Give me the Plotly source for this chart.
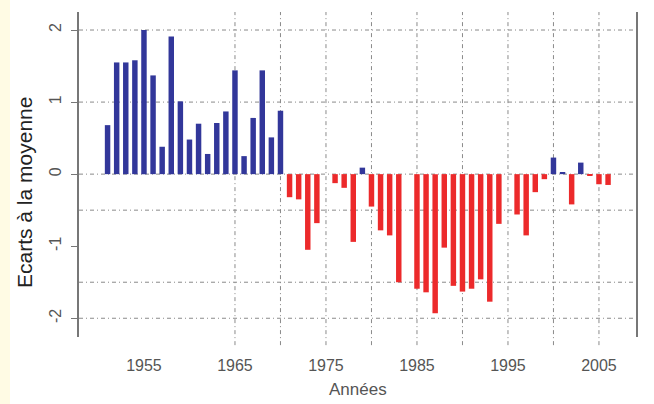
import plotly.graph_objects as go

years = list(range(1951, 2007))
ecarts = [0.68, 1.55, 1.55, 1.58, 2.00, 1.37, 0.38, 1.91, 1.01, 0.48,
          0.70, 0.28, 0.71, 0.87, 1.44, 0.25, 0.78, 1.44, 0.51, 0.88,
          -0.32, -0.35, -1.05, -0.68, None, -0.125, -0.19, -0.94, 0.09, -0.45,
          -0.78, -0.85, -1.50, None, -1.59, -1.64, -1.93, -1.02, -1.55, -1.63,
          -1.59, -1.46, -1.77, -0.69, None, -0.56, -0.85, -0.25, -0.07, 0.23,
          0.03, -0.42, 0.16, -0.02, -0.14, -0.15]

xtick_years = [1955, 1965, 1975, 1985, 1995, 2005]
ytick_vals = [2, 1, 0, -1, -2]
xgrid_years = [1965, 1970, 1975, 1980, 1985, 1990, 1995, 2000, 2005]
ygrid_vals = [2, 1, 0, -0.5, -1.5, -2]

BLUE = "#32379a"
RED = "#ec2a2b"
colors = [BLUE if (v is not None and v >= 0) else RED for v in ecarts]

fig = go.Figure()
fig.add_trace(go.Bar(x=years, y=ecarts, marker=dict(color=colors, line=dict(width=0)),
                     width=0.6, showlegend=False, hoverinfo="skip"))

shapes = []
for yr in xgrid_years:
    shapes.append(dict(type="line", xref="x", yref="paper", x0=yr, x1=yr, y0=-0.025, y1=1,
                       line=dict(color="#8a8a8a", width=1, dash="4px,3px,1px,3px"), layer="below"))
for v in ygrid_vals:
    shapes.append(dict(type="line", xref="paper", yref="y", x0=0, x1=1, y0=v, y1=v,
                       line=dict(color="#8a8a8a", width=1, dash="4px,3px,1px,3px"), layer="below"))
# cream strip at left edge of the picture
shapes.append(dict(type="rect", xref="paper", yref="paper", x0=-79/557, x1=(10-79)/557,
                   y0=-67/325, y1=1+12/325, fillcolor="#fffbe4", line=dict(width=0), layer="below"))

fig.update_layout(
    width=654, height=404,
    margin=dict(l=79, r=18, t=12, b=67),
    paper_bgcolor="white", plot_bgcolor="white",
    font=dict(family="Liberation Sans, Arial, sans-serif", color="#444"),
    bargap=0.4,
    shapes=shapes,
    xaxis=dict(range=[1947.86, 2009.07], tickvals=xtick_years, ticktext=[str(y) for y in xtick_years],
               showgrid=False, zeroline=False, showline=False,
               ticks="outside", ticklen=14, tickcolor="rgba(0,0,0,0)",
               tickfont=dict(size=16, color="#555")),
    yaxis=dict(range=[-2.26, 2.25], tickvals=ytick_vals, ticktext=[str(v) for v in ytick_vals],
               showgrid=False, zeroline=False, showline=True, mirror=True,
               linecolor="#777", linewidth=1.5,
               ticks="outside", ticklen=6, tickcolor="#777", tickangle=-90,
               ticklabelstandoff=4,
               tickfont=dict(size=16, color="#555")),
    annotations=[
        dict(text="Ecarts à la moyenne", xref="paper", yref="paper",
             x=(25-79)/557, y=(337-193)/325, textangle=-90, showarrow=False,
             xanchor="center", yanchor="middle", font=dict(size=21, color="#222")),
        dict(text="Années", xref="paper", yref="paper",
             x=(358-79)/557, y=-(389-337)/325, showarrow=False,
             xanchor="center", yanchor="middle", font=dict(size=17, color="#555")),
    ],
)

fig.write_html("out.html", config={"displayModeBar": False},
               post_script="document.body.style.margin='0px';document.body.style.overflow='hidden';")
